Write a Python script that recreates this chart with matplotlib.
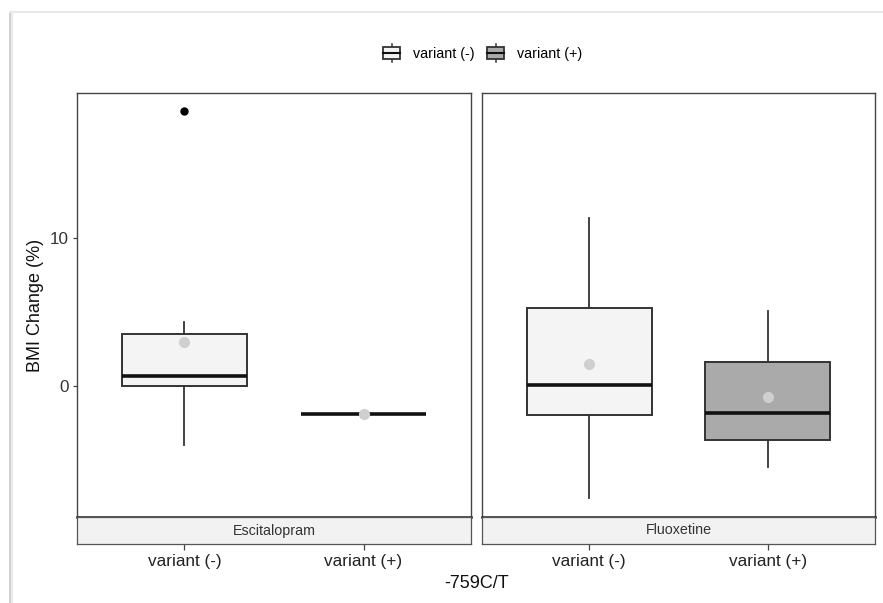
import matplotlib
matplotlib.use("Agg")
import matplotlib.pyplot as plt
from matplotlib.patches import Rectangle
from matplotlib.lines import Line2D
from matplotlib.legend_handler import HandlerBase

plt.rcParams['font.family'] = ['Liberation Sans', 'DejaVu Sans']

# ---- data ----
drugs = ['Escitalopram', 'Fluoxetine']
variants = ['variant (-)', 'variant (+)']
# per drug: [variant(-), variant(+)]
whisk_lo = [[-4.01, -1.95], [-7.60, -5.53]]
q1 = [[0.00, -1.95], [-2.02, -3.67]]
medians = [[0.63, -1.95], [0.02, -1.84]]
q3 = [[3.52, -1.95], [5.24, 1.61]]
whisk_hi = [[4.31, -1.95], [11.41, 5.06]]
means = [[2.95, -1.95], [1.45, -0.79]]
outliers = [[[18.64], []], [[], []]]

fills = ['#F4F4F4', '#AAAAAA']
x_title = '-759C/T'
y_title = 'BMI Change (%)'
y_ticks = [0, 10]

W, H = 883, 603
fig = plt.figure(figsize=(W / 100, H / 100), dpi=100)


def fx(px):
    return px / W


def fy(py):
    return 1 - py / H


panel_x = [(77, 471), (482, 875)]
panel_top, panel_bot, strip_bot = 93, 517, 544
ylim = (-8.91, 19.86)
edge = '#333333'

for d, drug in enumerate(drugs):
    x0, x1 = panel_x[d]
    ax = fig.add_axes([fx(x0), fy(panel_bot), fx(x1 - x0), (panel_bot - panel_top) / H])
    stats = []
    for v in range(len(variants)):
        stats.append(dict(whislo=whisk_lo[d][v], q1=q1[d][v], med=medians[d][v],
                          q3=q3[d][v], whishi=whisk_hi[d][v], fliers=outliers[d][v],
                          label=variants[v]))
    bp = ax.bxp(stats, positions=[1, 2], widths=0.70, patch_artist=True,
                showcaps=False,
                boxprops=dict(edgecolor=edge, linewidth=1.4),
                whiskerprops=dict(color=edge, linewidth=1.3),
                medianprops=dict(color='#111111', linewidth=2.6),
                flierprops=dict(marker='o', markerfacecolor='black', markeredgecolor='black',
                                markersize=5))
    for patch, fc in zip(bp['boxes'], fills):
        patch.set_facecolor(fc)
    ax.plot([1, 2], means[d], linestyle='none', marker='o', markersize=7,
            color='#CFCFCF', zorder=5)
    ax.set_xlim(0.4, 2.6)
    ax.set_ylim(*ylim)
    ax.set_xticks([])
    for s in ax.spines.values():
        s.set_color('#444444')
        s.set_linewidth(1.0)
    ax.spines['bottom'].set_linewidth(1.8)
    ax.spines['bottom'].set_color('#222222')
    if d == 0:
        ax.set_yticks(y_ticks)
        ax.set_yticklabels([str(t) for t in y_ticks], fontsize=12.3, color='#333333')
        ax.tick_params(axis='y', length=3, width=0.9, color='#444444', pad=3)
        ax.set_ylabel(y_title, fontsize=13, color='#111111', va='center')
        ax.yaxis.set_label_coords((36 - x0) / (x1 - x0), 0.5)
    else:
        ax.set_yticks([])

    # strip at the bottom with x tick labels under it
    sax = fig.add_axes([fx(x0), fy(strip_bot), fx(x1 - x0), (strip_bot - panel_bot) / H])
    sax.set_facecolor('#F2F2F2')
    sax.set_xlim(0.4, 2.6)
    sax.set_ylim(0, 1)
    sax.set_yticks([])
    sax.set_xticks([1, 2])
    sax.set_xticklabels(variants, fontsize=12.3, color='#222222')
    sax.tick_params(axis='x', length=4, width=0.9, color='#444444', pad=3)
    for s in sax.spines.values():
        s.set_color('#555555')
        s.set_linewidth(0.9)
    sax.text(1.5, 0.5, drug, ha='center', va='center', fontsize=10.3, color='#333333')

fig.text(fx(477), fy(583), x_title, ha='center', va='center', fontsize=13, color='#111111')


class BoxHandler(HandlerBase):
    def create_artists(self, legend, orig_handle, xdescent, ydescent, width, height,
                       fontsize, trans):
        fc = orig_handle.get_facecolor()
        cx = width / 2 - xdescent
        bx0, bx1 = -xdescent + 1, width - xdescent - 1
        by0, by1 = -ydescent + height * 0.12, -ydescent + height * 0.88
        rect = Rectangle((bx0, by0), bx1 - bx0, by1 - by0, facecolor=fc,
                         edgecolor=edge, linewidth=1.3, transform=trans)
        med = Line2D([bx0, bx1], [(by0 + by1) / 2] * 2, color='#111111', lw=1.5,
                     transform=trans)
        w1 = Line2D([cx, cx], [by1, -ydescent + height * 1.1], color=edge, lw=1.1,
                    transform=trans)
        w2 = Line2D([cx, cx], [-ydescent - height * 0.1, by0], color=edge, lw=1.1,
                    transform=trans)
        return [w1, w2, rect, med]


handles = [Rectangle((0, 0), 1, 1, facecolor=fc) for fc in fills]
fig.legend(handles, variants, handler_map={Rectangle: BoxHandler()},
           loc='center', bbox_to_anchor=(fx(482), fy(53)), ncol=2, frameon=False,
           fontsize=10.3, handlelength=1.35, handleheight=1.3, handletextpad=0.8,
           columnspacing=0.8)

# screenshot frame
fig.add_artist(Line2D([fx(10), fx(10)], [fy(12), 0], color='#CFCFCF', lw=2.0))
fig.add_artist(Line2D([fx(12), fx(12)], [fy(12), 0], color='#EBEBEB', lw=1.5))
fig.add_artist(Line2D([fx(10), 1], [fy(12), fy(12)], color='#E8E8E8', lw=1.5))

fig.savefig('out.png', dpi=100)
